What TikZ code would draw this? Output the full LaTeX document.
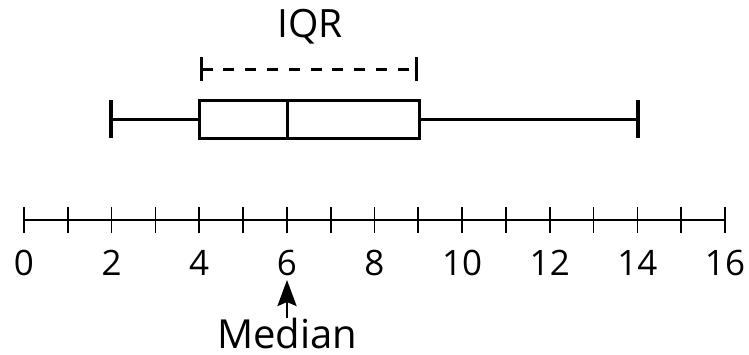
\documentclass[tikz,border=0pt]{standalone}
\usepackage{fontspec}
\setmainfont{Open Sans}
\usetikzlibrary{arrows.meta}
\begin{document}
\begin{tikzpicture}[x=1pt,y=-1pt,
  axisline/.style={line width=2.6pt},
  tickline/.style={line width=1.7pt},
  boxline/.style={line width=3pt},
  numlabel/.style={anchor=base,inner sep=0pt,font=\fontsize{35}{35}\selectfont},
  biglabel/.style={anchor=base,inner sep=0pt}]
\useasboundingbox (0,0) rectangle (749,354);
% axis
\coordinate (a0) at (24,220);
\coordinate (a16) at (725,220);
\draw[axisline] (a0) -- (a16);
\foreach \i in {0,...,16}{
  \coordinate (t\i) at ({24+\i*43.8125},220);
  \draw[tickline] ([yshift=-12.5pt]t\i) -- ([yshift=13pt]t\i);
}
\foreach \i in {0,2,...,16}{
  \node[numlabel] (n\i) at ({24+\i*43.8125},275) {\i};
}
% box plot
\node[draw,boxline,minimum width=220pt,minimum height=38pt,inner sep=0pt] (box) at (309,119) {};
\coordinate (med) at (287,119);
\draw[boxline] (med |- box.north) -- (med |- box.south);
\coordinate (wl) at (111,119);
\coordinate (wr) at (638,119);
\draw[boxline] (wl) -- (box.west);
\draw[boxline] (box.east) -- (wr);
\draw[line width=3.4pt] ([yshift=-19pt]wl) -- ([yshift=19pt]wl);
\draw[line width=3.4pt] ([yshift=-19pt]wr) -- ([yshift=19pt]wr);
% IQR
\coordinate (il) at (201.5,69);
\coordinate (ir) at (416.5,69);
\draw[line width=3pt] ([yshift=-12pt]il) -- ([yshift=12pt]il);
\draw[line width=3pt] ([yshift=-12pt]ir) -- ([yshift=12pt]ir);
\draw[line width=3pt,dash pattern=on 11pt off 10.8pt] (il) -- (ir);
\node[biglabel,font=\fontsize{39}{39}\selectfont] (iqr) at (310,37.5) {IQR};
% median
\node[biglabel,font=\fontsize{40}{40}\selectfont] (mtext) at (287,348) {Median};
\draw[line width=2.8pt,-{Stealth[length=26pt,width=19pt,inset=4pt]}] ([yshift=-1pt]mtext.north) -- (287,280);
\end{tikzpicture}
\end{document}
